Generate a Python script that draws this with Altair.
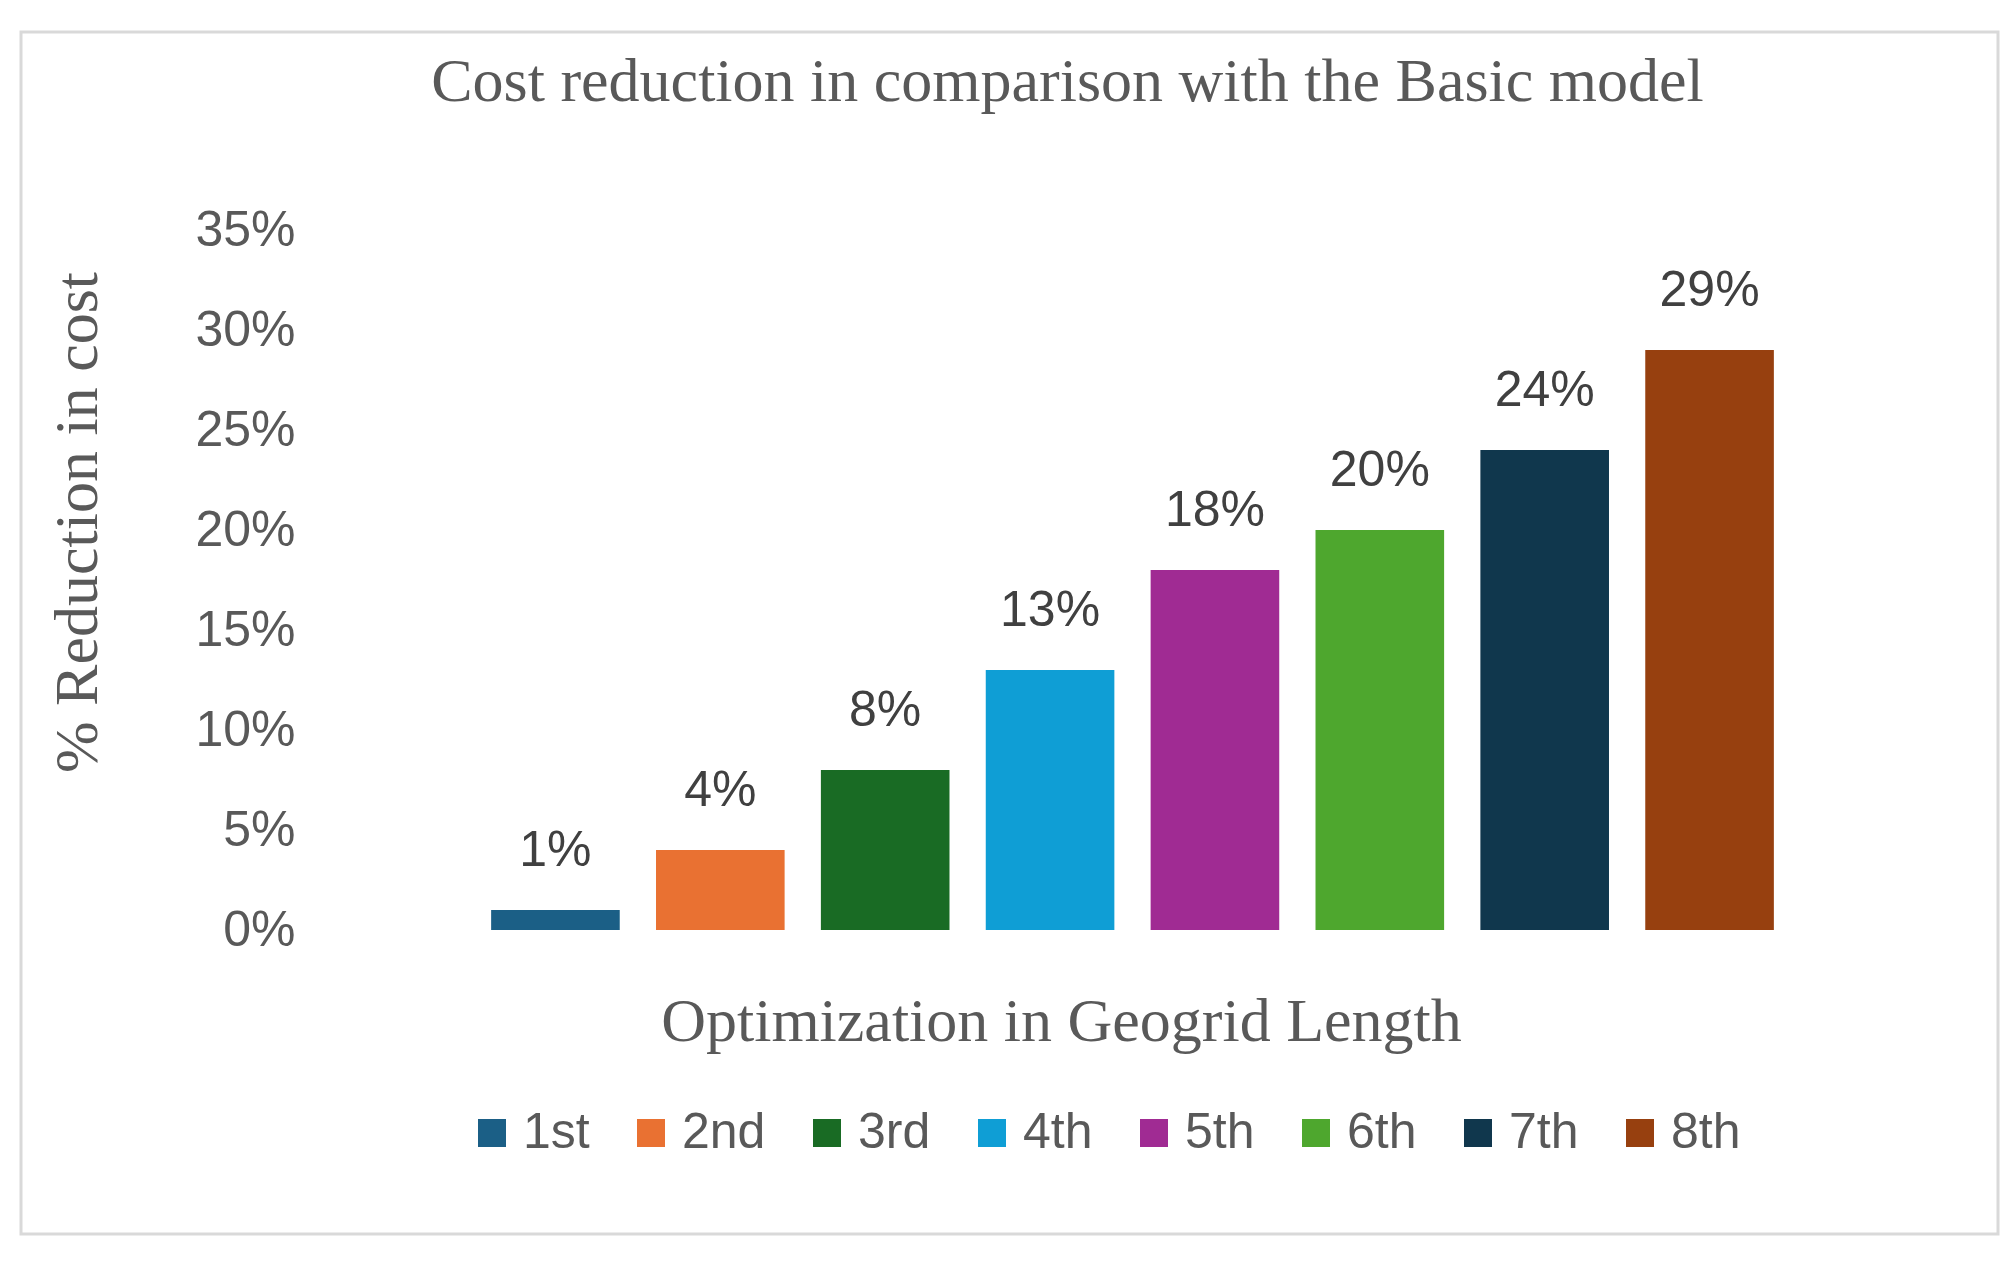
import altair as alt
import pandas as pd

categories = ["1st", "2nd", "3rd", "4th", "5th", "6th", "7th", "8th"]
values = [0.01, 0.04, 0.08, 0.13, 0.18, 0.20, 0.24, 0.29]
colors = ["#1B5F86", "#E97132", "#196B24", "#0F9ED5", "#A02B93", "#4EA72E", "#10374D", "#97400F"]
y_ticks = [0.0, 0.05, 0.10, 0.15, 0.20, 0.25, 0.30, 0.35]

title_text = "Cost reduction in comparison with the Basic model"
y_title = "% Reduction in cost"
x_title = "Optimization in Geogrid Length"

df = pd.DataFrame({"step": categories, "reduction": values})

SERIF = "Liberation Serif"
SANS = "Liberation Sans"
GRAY = "#595959"

PLOT_W = 1319
PLOT_H = 700

x_enc = alt.X(
    "step:N",
    sort=categories,
    scale=alt.Scale(paddingInner=0.22, paddingOuter=0.11),
    axis=alt.Axis(
        title=x_title,
        labels=False,
        ticks=False,
        domain=False,
        titleFont=SERIF,
        titleFontSize=62,
        titleFontWeight="normal",
        titleColor=GRAY,
        titleX=588,
        titleY=91,
        titleAlign="center",
        titleBaseline="middle",
    ),
)

y_enc = alt.Y(
    "reduction:Q",
    scale=alt.Scale(domain=[0, 0.35], nice=False),
    axis=alt.Axis(
        title=y_title,
        values=y_ticks,
        format=".0%",
        grid=False,
        ticks=False,
        tickSize=0,
        domain=False,
        labelPadding=178,
        labelFont=SANS,
        labelFontSize=50,
        labelColor=GRAY,
        titleFont=SERIF,
        titleFontSize=62,
        titleFontWeight="normal",
        titleColor=GRAY,
        titleAngle=270,
        titleX=-396,
        titleY=292,
        titleAlign="center",
        titleBaseline="middle",
    ),
)

color_enc = alt.Color(
    "step:N",
    sort=categories,
    scale=alt.Scale(domain=categories, range=colors),
    legend=alt.Legend(
        title=None,
        orient="none",
        legendX=-6,
        legendY=878,
        direction="horizontal",
        symbolType="square",
        symbolSize=784,
        symbolStrokeWidth=0,
        labelFont=SANS,
        labelFontSize=50,
        labelColor=GRAY,
        labelOffset=6,
        columnPadding=36,
    ),
)

bars = alt.Chart(df).mark_bar().encode(x=x_enc, y=y_enc, color=color_enc)

labels = alt.Chart(df).mark_text(
    font=SANS, fontSize=50, color="#404040", baseline="alphabetic", dy=-44
).encode(
    x=alt.X("step:N", sort=categories),
    y=alt.Y("reduction:Q"),
    text=alt.Text("reduction:Q", format=".0%"),
)

frame = alt.Chart(pd.DataFrame({"f": [0]})).mark_rect(
    fill="transparent", stroke="#D9D9D9", strokeWidth=3
).encode(
    x=alt.value(-452), x2=alt.value(1525), y=alt.value(-198), y2=alt.value(1004)
)

chart = alt.layer(frame, bars, labels).properties(
    width=PLOT_W,
    height=PLOT_H,
    background="white",
    title=alt.TitleParams(
        text=title_text,
        font=SERIF,
        fontSize=62,
        fontWeight="normal",
        color=GRAY,
        anchor="middle",
        frame="group",
        dx=-65,
        offset=-132,
        baseline="alphabetic",
    ),
    autosize=alt.AutoSizeParams(type="none"),
    padding={"left": 465, "top": 222, "right": 211, "bottom": 328},
).configure_view(strokeWidth=0, stroke="transparent")

chart.save("out.html", embed_options={"renderer": "svg", "actions": False})
